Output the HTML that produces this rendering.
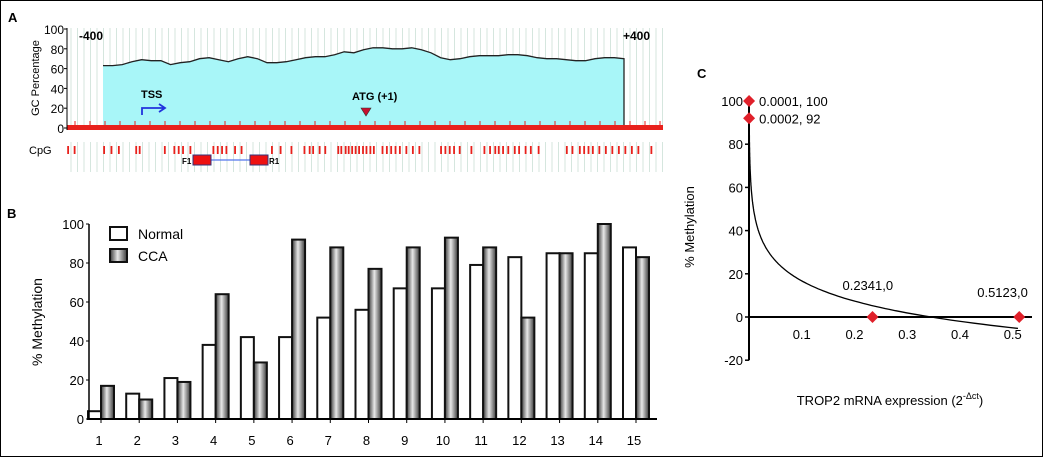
<!DOCTYPE html>
<html><head><meta charset="utf-8"><style>
body{margin:0;background:#fff;}
svg{display:block;font-family:"Liberation Sans",sans-serif;}
</style></head><body>
<svg width="1043" height="457" viewBox="0 0 1043 457" xmlns="http://www.w3.org/2000/svg">
<rect x="0.5" y="0.5" width="1042" height="456" fill="#fff" stroke="#000"/>
<g id="A"></g>
<g id="B"></g>
<g id="C"></g>
</svg>
<script>
const NS="http://www.w3.org/2000/svg";
function el(p,t,a,txt){const e=document.createElementNS(NS,t);for(const k in a)e.setAttribute(k,a[k]);if(txt!=null)e.textContent=txt;p.appendChild(e);return e;}

// ---- Panel A data ----
const gcTicks=[0,20,40,60,80,100];
const gcProfile=[63,63,64,67,69,68,68,64,66,67,70,71,69,67,70,72,70,66,66,67,69,71,72,72,74,77,76,79,81,81,80,80,81,79,76,71,69,70,72,73,73,73,74,74,73,71,70,70,69,68,68,70,71,71,70];
const cpgSites=[155,170,238,255,272,312,320,378,400,410,420,437,490,500,510,520,540,555,625,645,670,700,712,720,735,748,778,785,795,802,810,818,826,835,843,852,860,880,890,900,910,920,935,950,965,1015,1025,1035,1045,1058,1085,1115,1128,1140,1148,1158,1170,1185,1195,1210,1222,1240,1305,1318,1335,1345,1355,1365,1380,1395,1410,1425,1440,1455,1470,1500];

// ---- Panel B data ----
const samples=["1","2","3","4","5","6","7","8","9","10","11","12","13","14","15"];
const normalVals=[4,13,21,38,42,42,52,56,67,67,79,83,85,85,88];
const ccaVals=[17,10,19,64,29,92,88,77,88,93,88,52,85,100,83];
const bTicks=[0,20,40,60,80,100];

// ---- Panel C data ----
const cPoints=[[0.0001,100],[0.0002,92],[0.2341,0],[0.5123,0]];
const cLabels=["0.0001, 100","0.0002, 92","0.2341,0","0.5123,0"];
const cYTicks=[-20,0,20,40,60,80,100];
const cXTicks=[0.1,0.2,0.3,0.4,0.5];
const fitA=-13.5, fitX0=0.345;

// ===== Panel A =====
(function(){
const g=document.getElementById('A');
const x0=67,x1=663,yA=v=>128-v*0.99;
const t=el(g,'text',{x:8,y:22,'font-size':13,'font-weight':'bold'},'A');

const bg=el(g,'g',{});

for(let x=x0+4;x<x1;x+=6.5){el(bg,'line',{x1:x,y1:28,x2:x,y2:130,stroke:'#d5e6de','stroke-width':1});el(bg,'line',{x1:x,y1:142,x2:x,y2:172,stroke:'#d5e6de','stroke-width':1});}
const fx0=103,fx1=624,n=gcProfile.length;
const px=i=>fx0+i*(fx1-fx0)/(n-1);
let d=`M${fx0},${yA(0)}`;gcProfile.forEach((v,i)=>d+=` L${px(i).toFixed(1)},${yA(v).toFixed(1)}`);d+=` L${fx1},${yA(0)} Z`;
const fill=el(g,'path',{d,fill:'#a8f6f8',stroke:'none'});

let dl='';gcProfile.forEach((v,i)=>dl+=(i?' L':'M')+px(i).toFixed(1)+','+yA(v).toFixed(1));dl+=` L${fx1},${yA(0)}`;
const ln=el(g,'path',{d:dl,fill:'none',stroke:'#222','stroke-width':1.3});

el(g,'line',{x1:x0,y1:127,x2:x1,y2:127,stroke:'#111','stroke-width':1.5});
const rb=el(g,'rect',{x:x0,y:125,width:x1-x0,height:5,fill:'#e8211c'});

for(let x=x0+8;x<x1;x+=15){el(g,'line',{x1:x,y1:121,x2:x,y2:126,stroke:'#e8211c','stroke-width':1});}
el(g,'line',{x1:x0,y1:28,x2:x0,y2:130,stroke:'#000','stroke-width':1});
gcTicks.forEach(v=>{el(g,'line',{x1:x0-3,y1:yA(v),x2:x0,y2:yA(v),stroke:'#000'});
const tl=el(g,'text',{x:x0-3,y:yA(v)+5,'font-size':12,'text-anchor':'end'},v);
});
const yt=el(g,'text',{x:0,y:0,'font-size':11,'text-anchor':'middle',transform:'translate(39,78) rotate(-90)'},'GC Percentage');

const m1=el(g,'text',{x:79,y:40,'font-size':12,'font-weight':'bold'},'-400');

const m2=el(g,'text',{x:623,y:40,'font-size':12,'font-weight':'bold'},'+400');

const ts=el(g,'text',{x:141,y:98,'font-size':11,'font-weight':'bold'},'TSS');

const ar=el(g,'path',{d:'M142,115 V108 H164 M159,104 L165,108 L159,112',fill:'none',stroke:'#2233dd','stroke-width':1.8});

const at=el(g,'text',{x:352,y:100,'font-size':11,'font-weight':'bold'},'ATG (+1)');

const tr=el(g,'path',{d:'M361,108 L371,108 L366,116 Z',fill:'#c8102e',stroke:'#333','stroke-width':0.6});

const cl=el(g,'text',{x:29,y:154,'font-size':11},'CpG');

cpgSites.forEach(s=>{const x=s/2.306;const r=el(g,'rect',{x:x,y:146,width:1.8,height:8,fill:'#e8211c'});
});
el(g,'line',{x1:211,y1:160,x2:250,y2:160,stroke:'#5577ee','stroke-width':1.2});
const f1=el(g,'rect',{x:193,y:155,width:18,height:10,fill:'#ee1111',stroke:'#33337a','stroke-width':1});

const r1=el(g,'rect',{x:250,y:155,width:18,height:10,fill:'#ee1111',stroke:'#33337a','stroke-width':1});

const f1t=el(g,'text',{x:182,y:164,'font-size':8,'font-weight':'bold'},'F1');

const r1t=el(g,'text',{x:269,y:164,'font-size':8,'font-weight':'bold'},'R1');

})();

// ===== Panel B =====
(function(){
const g=document.getElementById('B');
const ax=89,axEnd=657,y0=419,yPer=1.95;
const yB=v=>y0-v*yPer;
const xB=i=>99+i*(634-99)/14;
const bw=13;
const t=el(g,'text',{x:7,y:218,'font-size':13,'font-weight':'bold'},'B');

samples.forEach((s,i)=>{
 const c=xB(i)+2;
 const nb=el(g,'rect',{x:c-bw,y:yB(normalVals[i]),width:bw,height:normalVals[i]*yPer,fill:'#fff',stroke:'#111','stroke-width':2});
 
 const cb=el(g,'rect',{x:c,y:yB(ccaVals[i]),width:bw,height:ccaVals[i]*yPer,fill:'url(#ccaGrad)',stroke:'#111','stroke-width':2});
 
 const tl=el(g,'text',{x:xB(i),y:445,'font-size':13,'text-anchor':'middle'},s);
 
});
el(g,'line',{x1:ax,y1:224,x2:ax,y2:y0,stroke:'#000','stroke-width':1.5});
el(g,'line',{x1:ax,y1:y0,x2:axEnd,y2:y0,stroke:'#000','stroke-width':2});
samples.forEach((s,i)=>el(g,'line',{x1:xB(i)+2,y1:y0,x2:xB(i)+2,y2:y0+4,stroke:'#000'}));
bTicks.forEach(v=>{el(g,'line',{x1:ax-3,y1:yB(v),x2:ax,y2:yB(v),stroke:'#000'});
const tl=el(g,'text',{x:ax-5,y:yB(v)+5,'font-size':13,'text-anchor':'end'},v);
});
const yt=el(g,'text',{x:0,y:0,'font-size':14,'text-anchor':'middle',transform:'translate(42,322) rotate(-90)'},'% Methylation');

const lg=el(g,'g',{});
const l1=el(lg,'rect',{x:110,y:227,width:17,height:13,fill:'#fff',stroke:'#111','stroke-width':2});

const l1t=el(lg,'text',{x:138,y:239,'font-size':14},'Normal');

const l2=el(lg,'rect',{x:110,y:249,width:17,height:13,fill:'url(#ccaGrad)',stroke:'#111','stroke-width':2});

const l2t=el(lg,'text',{x:138,y:261,'font-size':14},'CCA');

})();

// ===== Panel C =====
(function(){
const g=document.getElementById('C');
const ax=749,y0=317,yPer=2.16,xPer=527.5;
const yC=v=>y0-v*yPer, xC=v=>ax+v*xPer;
const t=el(g,'text',{x:697,y:78,'font-size':13,'font-weight':'bold'},'C');

el(g,'line',{x1:ax,y1:yC(100)-3,x2:ax,y2:yC(-20),stroke:'#000','stroke-width':2});
el(g,'line',{x1:ax,y1:y0,x2:1032,y2:y0,stroke:'#000','stroke-width':2});
cYTicks.forEach(v=>{el(g,'line',{x1:ax-4,y1:yC(v),x2:ax,y2:yC(v),stroke:'#000','stroke-width':1.5});
const tl=el(g,'text',{x:ax-6,y:yC(v)+5,'font-size':13,'text-anchor':'end'},v);
});
cXTicks.forEach(v=>{const tl=el(g,'text',{x:xC(v),y:339,'font-size':13,'text-anchor':'middle'},v);
});
let d='';for(let k=0;k<=200;k++){const xv=Math.exp(Math.log(0.0004)+k/200*(Math.log(0.51)-Math.log(0.0004)));const yv=fitA*Math.log(xv/fitX0);d+=(k?' L':'M')+xC(xv).toFixed(1)+','+yC(yv).toFixed(1);}
const cv=el(g,'path',{d,fill:'none',stroke:'#000','stroke-width':1.3});

const lpos=[[10,5],[10,5],[-30,-27],[-42,-20]];
cPoints.forEach((p,i)=>{const x=xC(p[0]),y=yC(p[1]);
const m=el(g,'path',{d:`M${x},${y-6} L${x+6},${y} L${x},${y+6} L${x-6},${y} Z`,fill:'#e0202a'});

const tl=el(g,'text',{x:x+lpos[i][0],y:y+lpos[i][1],'font-size':13},cLabels[i]);
});
const yt=el(g,'text',{x:0,y:0,'font-size':13,'text-anchor':'middle',transform:'translate(694,227) rotate(-90)'},'% Methylation');

const xt=el(g,'text',{x:890,y:405,'font-size':13,'text-anchor':'middle'});

xt.appendChild(document.createTextNode('TROP2 mRNA expression (2'));
el(xt,'tspan',{dy:-6,'font-size':9},'-Δct');
el(xt,'tspan',{dy:6},')');
})();
const defs=el(document.querySelector('svg'),'defs',{});
const gr=el(defs,'linearGradient',{id:'ccaGrad',x1:0,y1:0,x2:1,y2:0});
el(gr,'stop',{offset:'0','stop-color':'#3a3a3a'});
el(gr,'stop',{offset:'0.45','stop-color':'#e8e8e8'});
el(gr,'stop',{offset:'1','stop-color':'#3a3a3a'});
</script>
</body></html>
